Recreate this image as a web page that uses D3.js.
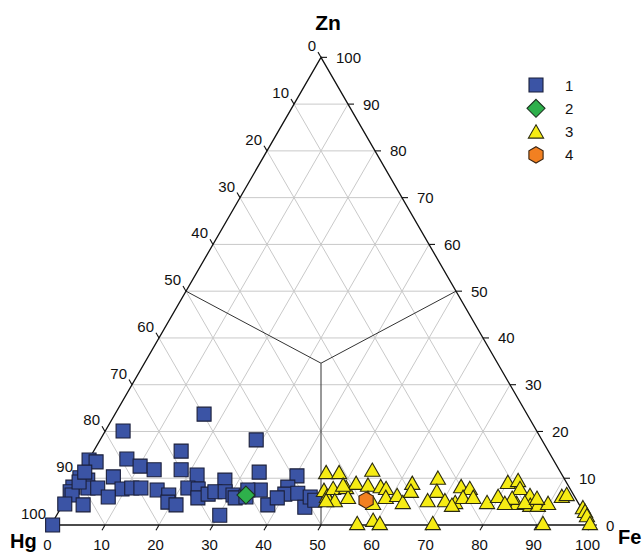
<!DOCTYPE html>
<html><head><meta charset="utf-8">
<script src="https://cdn.jsdelivr.net/npm/d3@7"></script>
<style>html,body{margin:0;padding:0;background:#fff}svg{display:block}</style>
</head><body>
<script>
// ---- data (percentages: Fe, Zn; Hg = 100 - Fe - Zn) ----
const tickValues = [0,10,20,30,40,50,60,70,80,90,100];
const axisNames = ["Zn","Hg","Fe"];
const legendLabels = ["1","2","3","4"];

const g1Fe = [16.5,3.3,28.9,16.2,0.1,1.6,7.0,10.2,13.2,18.2,21.7,27.4,32.9,40.3,0.3,2.0,6.4,0.0,0.0,2.9,4.7,9.3,11.0,12.7,0.7,7.6,0.3,3.8,0.3,15.9,18.6,19.2,21.0,21.4,23.4,24.3,25.8,26.8,28.7,30.5,30.2,31.2,35.0,38.0,39.8,40.0,42.3,45.1,45.0,46.2,39.0,33.1,0.6,0.6,32.7];
const g1Zn = [23.7,20.1,18.2,15.8,13.9,13.5,14.1,12.6,11.8,11.8,10.7,9.6,11.3,10.5,10.1,9.6,10.3,8.1,7.1,7.9,7.9,7.7,7.9,7.9,6.4,6.0,4.5,4.3,0.0,7.5,6.4,4.9,4.3,7.9,7.7,5.8,6.6,7.1,7.1,6.4,2.1,5.8,7.5,4.3,8.1,6.6,6.8,3.8,6.0,5.3,5.8,6.0,9.2,11.3,7.5];

const g2Fe = [32.9];
const g2Zn = [6.4];

const g3Fe = [45.3,47.7,53.6,46.8,48.0,48.3,49.9,50.6,52.0,52.0,54.4,55.8,56.9,58.1,59.0,60.9,62.7,62.4,63.0,57.3,56.5,59.1,60.7,66.6,67.8,67.1,70.3,72.4,71.8,73.6,73.3,75.2,78.3,79.7,80.0,81.7,82.9,83.9,82.5,85.5,86.6,88.0,89.7,85.3,91.5,92.2,96.6,97.4,98.2,99.6,70.5,90.9,49.8,81.7,87.1,48.3,72.1];
const g3Zn = [11.3,11.3,11.8,7.5,6.2,7.9,5.3,8.1,6.0,9.0,8.6,5.8,8.3,7.9,6.0,6.4,4.9,9.0,7.3,4.7,0.4,1.1,0.4,10.1,7.3,5.3,5.3,4.9,8.3,7.9,6.0,6.0,4.9,6.2,9.2,9.6,7.9,4.7,5.8,6.4,4.3,4.3,4.7,4.9,6.2,6.6,3.8,3.0,2.1,0.4,0.4,0.4,8.6,4.7,5.8,5.3,4.3];

const g4Fe = [55.7];
const g4Zn = [5.3];

// boundary lines: junction composition and edge end points (Fe, Zn)
const junction = {fe: 32.7, zn: 34.6};
const boundaryEnds = [{fe:0, zn:50},{fe:50, zn:50},{fe:50, zn:0}];

// ---- layout ----
const W = 644, H = 554;
const side = 540, h = side*Math.sqrt(3)/2;
const left = 51, base = 525;
const xS = d3.scaleLinear().domain([0,100]).range([left, left+side]);
const yS = d3.scaleLinear().domain([0,100]).range([base, base-h]);
const P = (fe, zn) => [xS(fe + zn/2), yS(zn)];

const svg = d3.select("body").append("svg").attr("width", W).attr("height", H)
  .style("font-family", "'Liberation Sans', Arial, Helvetica, sans-serif");

const line = d3.line();

// grid
const grid = svg.append("g").attr("stroke", "#c9c9c9").attr("stroke-width", 1).attr("fill", "none");
for (let k = 10; k < 100; k += 10) {
  grid.append("path").attr("d", line([P(0,k), P(100-k,k)]));       // const Zn
  grid.append("path").attr("d", line([P(k,0), P(k,100-k)]));       // const Fe
  grid.append("path").attr("d", line([P(100-k,0), P(0,100-k)]));   // const Hg
}

// boundary lines
const bl = svg.append("g").attr("stroke", "#333").attr("stroke-width", 1).attr("fill","none");
boundaryEnds.forEach(e => bl.append("path").attr("d", line([P(junction.fe, junction.zn), P(e.fe, e.zn)])));

// border
svg.append("path").attr("d", line([P(0,100), P(0,0), P(100,0)]) + "Z")
  .attr("fill","none").attr("stroke","#111").attr("stroke-width",1.3);

// ticks + labels
const tk = svg.append("g").attr("stroke","#111").attr("stroke-width",1.1);
const lab = svg.append("g").attr("font-size", 15).attr("fill","#111");
tickValues.forEach(v => {
  // bottom (Fe)
  let [bx, by] = P(v, 0);
  tk.append("line").attr("x1",bx).attr("y1",by).attr("x2",bx-3).attr("y2",by+5.2);
  lab.append("text").attr("x", bx-3.5).attr("y", by+25).attr("text-anchor","middle").text(v);
  // left (Hg): Hg = v -> Fe 0, Zn = 100 - v
  let [lx, ly] = P(0, 100 - v);
  tk.append("line").attr("x1",lx).attr("y1",ly).attr("x2",lx-3).attr("y2",ly-5.2);
  lab.append("text").attr("x", lx-5).attr("y", ly-6).attr("text-anchor","end").text(v);
  // right (Zn)
  let [rx, ry] = P(100 - v, v);
  tk.append("line").attr("x1",rx).attr("y1",ry).attr("x2",rx+6).attr("y2",ry);
  lab.append("text").attr("x", rx+15).attr("y", ry+5.5).attr("text-anchor","start").text(v);
});

// axis names
svg.append("text").attr("x", 328).attr("y", 30).attr("text-anchor","middle")
  .attr("font-size",21).attr("font-weight","bold").text(axisNames[0]);
svg.append("text").attr("x", 10).attr("y", 548).attr("text-anchor","start")
  .attr("font-size",20).attr("font-weight","bold").text(axisNames[1]);
svg.append("text").attr("x", 618).attr("y", 544).attr("text-anchor","start")
  .attr("font-size",20).attr("font-weight","bold").text(axisNames[2]);

// marker shapes
const shapes = {
  square: "M-7,-7H7V7H-7Z",
  diamond: "M0,-9L9,0L0,9L-9,0Z",
  triangle: "M0,-6.8L7.6,6.5L-7.6,6.5Z",
  hexagon: (() => { const r = 8.2; return d3.range(6).map(i => { const a = Math.PI/3*i - Math.PI/2; return [r*Math.cos(a), r*Math.sin(a)]; }); })()
};
const hexPath = "M" + shapes.hexagon.map(p => p.join(",")).join("L") + "Z";
const styles = [
  {d: shapes.square, fill: "#3b54a5", stroke: "#1b1f3a"},
  {d: shapes.diamond, fill: "#2eb04b", stroke: "#1c3320"},
  {d: shapes.triangle, fill: "#f6ec14", stroke: "#2a2a10"},
  {d: hexPath, fill: "#f28021", stroke: "#3a2410"}
];
const groups = [[g1Fe,g1Zn],[g2Fe,g2Zn],[g3Fe,g3Zn],[g4Fe,g4Zn]];
const drawOrder = [0,1,2,3];
drawOrder.forEach(gi => {
  const [fe, zn] = groups[gi];
  const st = styles[gi];
  svg.append("g").selectAll("path").data(fe.map((f,i) => P(f, zn[i])))
    .join("path").attr("d", st.d).attr("transform", d => `translate(${d[0]},${d[1]})`)
    .attr("fill", st.fill).attr("stroke", st.stroke).attr("stroke-width", 1.1);
});

// legend
const lg = svg.append("g");
legendLabels.forEach((t, i) => {
  const y = 85 + i*23.3;
  lg.append("path").attr("d", styles[i].d).attr("transform", `translate(536,${y})`)
    .attr("fill", styles[i].fill).attr("stroke", styles[i].stroke).attr("stroke-width", 1.1);
  lg.append("text").attr("x", 565).attr("y", y+5.5).attr("font-size", 15).attr("fill","#111").text(t);
});
</script>
</body></html>
